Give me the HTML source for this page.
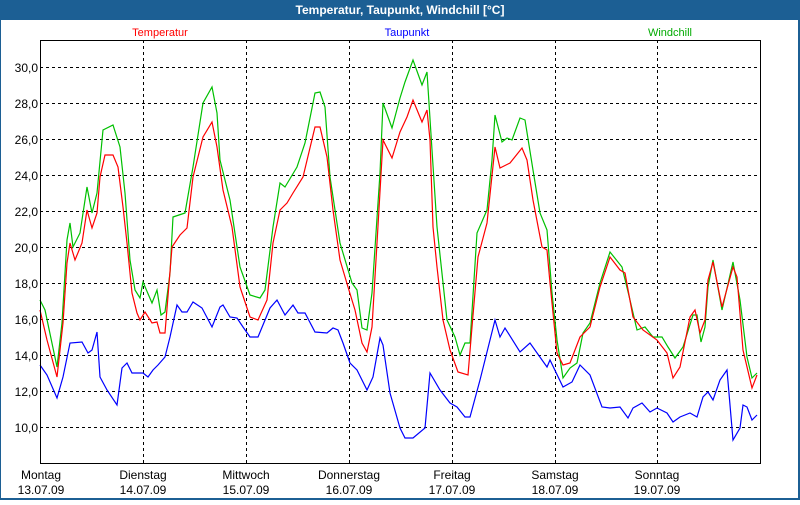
<!DOCTYPE html>
<html><head><meta charset="utf-8"><style>
body{margin:0;width:800px;height:500px;overflow:hidden;background:#fff;font-family:"Liberation Sans",sans-serif}
</style></head><body>
<svg width="800" height="500" xmlns="http://www.w3.org/2000/svg" font-family="Liberation Sans, sans-serif">
<rect x="0" y="0" width="800" height="500" fill="#1c5f94"/>
<rect x="1" y="20" width="797" height="478" fill="#fff"/>
<text x="400" y="14" fill="#fff" font-size="12" font-weight="bold" text-anchor="middle">Temperatur, Taupunkt, Windchill [°C]</text>
<text x="160" y="36" fill="#f00" font-size="11" text-anchor="middle">Temperatur</text>
<text x="407" y="36" fill="#00f" font-size="11" text-anchor="middle">Taupunkt</text>
<text x="670" y="36" fill="#0a0" font-size="11" text-anchor="middle">Windchill</text>
<g stroke="#000" stroke-dasharray="3,3" stroke-width="1">
<line x1="40" y1="67.5" x2="760" y2="67.5"/><line x1="40" y1="103.5" x2="760" y2="103.5"/><line x1="40" y1="139.5" x2="760" y2="139.5"/><line x1="40" y1="175.5" x2="760" y2="175.5"/><line x1="40" y1="211.5" x2="760" y2="211.5"/><line x1="40" y1="247.5" x2="760" y2="247.5"/><line x1="40" y1="283.5" x2="760" y2="283.5"/><line x1="40" y1="319.5" x2="760" y2="319.5"/><line x1="40" y1="355.5" x2="760" y2="355.5"/><line x1="40" y1="391.5" x2="760" y2="391.5"/><line x1="40" y1="427.5" x2="760" y2="427.5"/>
<line x1="143.5" y1="40" x2="143.5" y2="464"/><line x1="246.5" y1="40" x2="246.5" y2="464"/><line x1="349.5" y1="40" x2="349.5" y2="464"/><line x1="452.5" y1="40" x2="452.5" y2="464"/><line x1="555.5" y1="40" x2="555.5" y2="464"/><line x1="657.5" y1="40" x2="657.5" y2="464"/>
</g>
<g font-size="12" text-anchor="end" fill="#000">
<text x="38" y="72">30,0</text><text x="38" y="108">28,0</text><text x="38" y="144">26,0</text><text x="38" y="180">24,0</text><text x="38" y="216">22,0</text><text x="38" y="252">20,0</text><text x="38" y="288">18,0</text><text x="38" y="324">16,0</text><text x="38" y="360">14,0</text><text x="38" y="396">12,0</text><text x="38" y="432">10,0</text>
</g>
<g font-size="12" text-anchor="middle" fill="#000">
<text x="41" y="479">Montag</text><text x="41" y="494">13.07.09</text>
<text x="143" y="479">Dienstag</text><text x="143" y="494">14.07.09</text>
<text x="246" y="479">Mittwoch</text><text x="246" y="494">15.07.09</text>
<text x="349" y="479">Donnerstag</text><text x="349" y="494">16.07.09</text>
<text x="452" y="479">Freitag</text><text x="452" y="494">17.07.09</text>
<text x="555" y="479">Samstag</text><text x="555" y="494">18.07.09</text>
<text x="657" y="479">Sonntag</text><text x="657" y="494">19.07.09</text>
</g>
<g fill="none" stroke-width="1.2">
<polyline stroke="#00f" points="40,365 47,375 57,398 63,377 70,343 82,342 88,353 92,350 97,332 100,377 107,390 117,405 122,368 127,363 132,373 143,373 148,377 153,370 158,365 165,357 170,337 177,305 182,312 187,312 193,302 202,308 212,327 220,307 223,305 230,317 237,318 243,327 250,337 258,337 270,308 277,300 285,315 293,305 298,313 305,313 315,332 327,333 333,328 338,330 343,343 350,363 357,370 367,390 373,377 380,338 383,345 390,393 400,428 405,438 413,438 425,428 430,373 440,390 450,403 457,407 465,417 470,417 480,380 490,340 495,320 500,337 505,328 520,352 530,343 547,367 550,360 563,387 572,382 580,365 590,375 602,407 610,408 620,407 628,418 633,408 642,403 650,412 657,408 667,413 673,422 680,417 690,413 697,417 703,397 708,392 713,400 720,380 727,370 733,440 740,428 743,405 747,407 752,420 757,415"/>
<polyline stroke="#00c000" points="40,300 45,310 57,367 62,323 67,240 70,223 73,247 80,233 87,187 92,213 97,193 103,130 113,125 120,147 125,193 130,260 135,290 140,298 143,282 152,303 157,290 161,315 165,312 170,273 173,217 185,213 193,167 203,103 212,87 217,113 220,160 230,200 240,267 250,295 260,298 265,290 273,227 280,183 285,187 297,167 305,143 315,93 320,92 325,107 330,177 340,243 352,283 357,290 362,328 367,330 372,293 380,173 383,103 392,128 400,98 405,82 413,60 422,85 427,72 432,150 437,227 447,320 455,337 460,355 465,343 470,343 477,233 487,210 492,160 495,115 502,142 507,138 512,140 520,118 525,120 533,170 540,213 547,230 552,293 557,340 563,378 570,368 577,363 583,333 590,323 600,283 610,252 622,267 630,300 637,330 645,327 653,337 662,337 668,347 675,358 683,347 693,315 697,315 701,342 705,327 708,287 713,260 722,310 733,262 740,300 747,357 752,378 757,373"/>
<polyline stroke="#f00" points="40,310 47,340 57,377 63,323 67,263 70,243 75,260 82,243 87,210 92,228 97,213 100,177 105,155 113,155 118,167 123,207 127,243 132,293 137,313 140,320 145,312 152,323 157,322 160,333 165,333 172,247 180,235 187,228 193,177 203,137 212,122 217,147 223,190 232,227 240,287 250,317 258,320 267,300 273,243 280,210 287,203 293,193 303,177 315,127 320,127 327,157 333,210 340,260 348,287 355,310 362,343 367,352 372,327 377,243 383,140 392,158 400,132 407,117 413,100 422,122 427,110 430,140 433,227 437,267 443,320 450,350 458,372 468,375 472,327 478,257 487,223 495,147 500,168 510,163 522,148 527,160 533,200 542,247 547,250 550,283 557,353 563,365 570,363 580,337 590,327 600,287 610,257 620,270 625,273 633,317 643,330 657,340 667,353 673,378 680,367 690,317 695,310 700,333 705,320 708,280 713,262 722,307 733,267 737,277 743,350 752,388 757,375"/>
</g>
<polyline fill="none" stroke="#000" stroke-width="1" points="40.5,40 40.5,463.5 760.5,463.5 760.5,40"/>
<line x1="40" y1="40.5" x2="761" y2="40.5" stroke="#000"/>
</svg>
</body></html>
